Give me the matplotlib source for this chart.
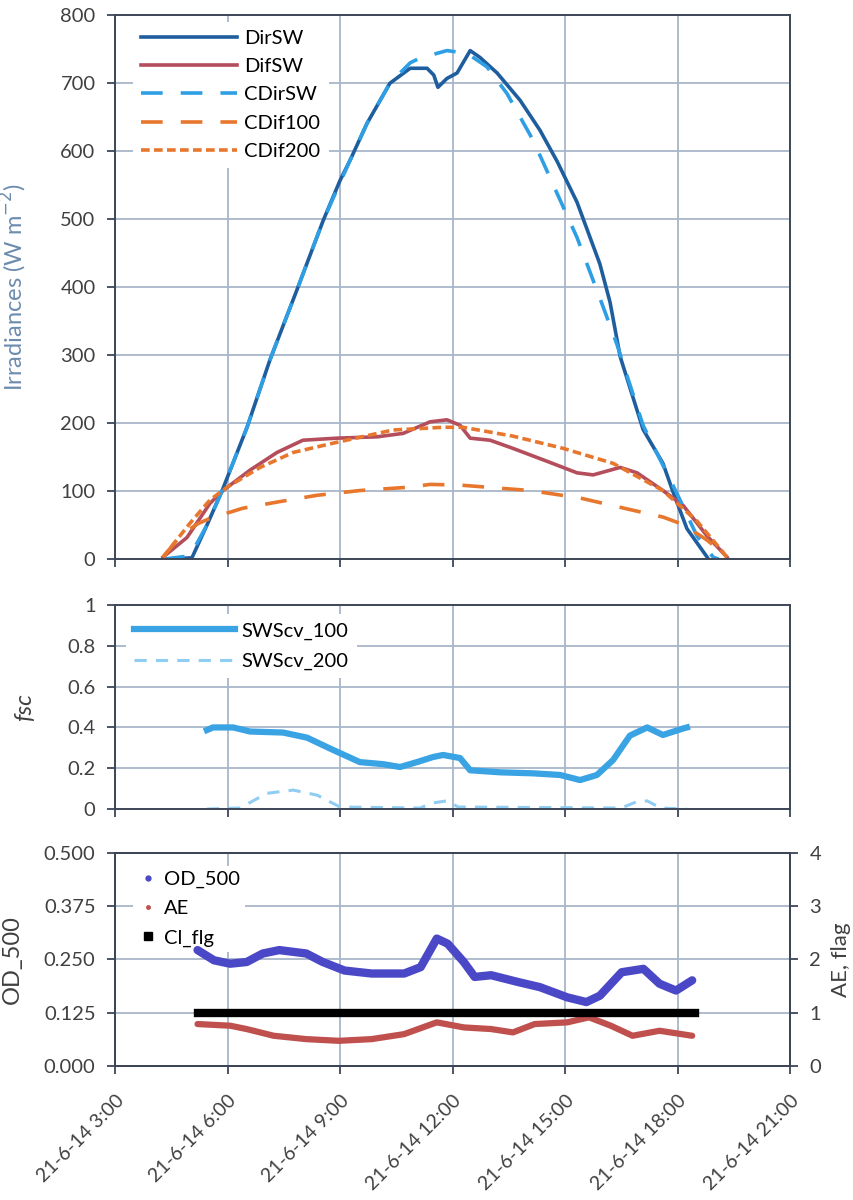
import matplotlib
matplotlib.use('Agg')
import matplotlib.pyplot as plt
import matplotlib.transforms as mtransforms
from matplotlib.lines import Line2D

plt.rcParams['font.family'] = ['Lato', 'DejaVu Sans']

# ---- irradiances (hours of day, W m-2) ----
dir_h = [4.28, 5.05, 5.45, 5.85, 6.52, 7.13, 7.85, 8.55, 9.00, 9.27, 9.72, 10.33, 10.87,
         11.32, 11.50, 11.61, 11.85, 12.12, 12.47, 12.73, 13.19, 13.80, 14.33, 14.79,
         15.32, 15.93, 16.20, 16.47, 17.08, 17.61, 17.88, 18.25, 18.79]
dir_sw = [0, 2, 50, 100, 194, 293, 396, 498, 557, 587, 641, 700, 722,
          722, 712, 694, 707, 715, 748, 738, 715, 675, 631, 585,
          525, 434, 378, 298, 191, 141, 99, 45, 3]

cdir_h = [4.28, 5.00, 5.45, 5.85, 6.52, 7.13, 7.85, 8.55, 9.27, 9.72, 10.33, 10.87, 11.13,
          11.85, 12.39, 12.92, 13.45, 14.15, 14.87, 15.32, 16.01, 16.39, 17.08, 17.99,
          18.52, 18.95, 19.10]
cdir_sw = [0, 5, 50, 100, 194, 293, 396, 498, 587, 641, 700, 730, 737,
           748, 744, 724, 685, 616, 528, 473, 372, 315, 197, 96,
           34, 3, 0]

dif_h = [4.28, 4.92, 5.53, 5.88, 6.60, 7.32, 8.01, 8.92, 9.99, 10.68, 11.40, 11.85, 12.20,
         12.47, 13.00, 13.61, 14.52, 15.32, 15.75, 16.47, 16.92, 17.61, 18.15, 18.79, 19.32]
dif_sw = [3, 32, 82, 101, 131, 157, 175, 178, 180, 185, 202, 205, 197,
          178, 175, 163, 144, 127, 124, 135, 127, 101, 79, 34, 3]

c100_h = [4.28, 4.75, 5.20, 5.53, 6.41, 7.32, 8.39, 9.53, 10.87, 11.40, 12.20, 14.07,
          15.40, 16.73, 17.61, 18.15, 18.79, 19.32]
cdif100 = [3, 35, 52, 60, 75, 84, 94, 101, 106, 110, 109, 101,
           90, 73, 62, 51, 28, 3]

c200_h = [4.28, 5.00, 5.53, 5.99, 6.87, 7.75, 8.92, 10.41, 11.75, 12.28, 13.61, 14.95,
          16.28, 17.61, 18.52, 19.32]
cdif200 = [3, 53, 87, 106, 135, 157, 172, 190, 194, 194, 181, 163,
           141, 101, 56, 3]

# ---- shortwave cloud fraction ----
sc100_h = [5.45, 5.61, 6.15, 6.60, 7.48, 8.12, 8.81, 9.53, 10.15, 10.60, 11.05, 11.48,
           11.75, 12.20, 12.47, 13.27, 14.15, 14.87, 15.40, 15.85, 16.28, 16.73, 17.19,
           17.61, 18.15, 18.25]
swscv_100 = [0.387, 0.40, 0.40, 0.38, 0.375, 0.35, 0.29, 0.23, 0.22, 0.206, 0.23, 0.255,
             0.265, 0.25, 0.19, 0.18, 0.175, 0.167, 0.142, 0.167, 0.24, 0.36, 0.40,
             0.363, 0.395, 0.40]
sc200_h = [5.45, 6.33, 7.05, 7.75, 8.39, 9.00, 11.13, 11.48, 11.85, 12.15, 16.50, 16.90,
           17.19, 17.55, 18.25]
swscv_200 = [0, 0.005, 0.077, 0.093, 0.068, 0.01, 0.005, 0.03, 0.04, 0.01, 0.005, 0.035,
             0.04, 0.005, 0]

# ---- aerosol ----
od_h = [5.20, 5.64, 6.07, 6.51, 6.94, 7.38, 8.10, 8.54, 9.12, 9.84, 10.71, 11.15, 11.58,
        11.87, 12.30, 12.59, 13.03, 13.75, 14.33, 15.06, 15.57, 15.93, 16.51, 17.09,
        17.52, 17.96, 18.39]
od_500 = [0.272, 0.248, 0.240, 0.244, 0.264, 0.272, 0.264, 0.244, 0.224, 0.217, 0.217,
          0.232, 0.299, 0.287, 0.244, 0.209, 0.213, 0.197, 0.185, 0.161, 0.150, 0.165,
          0.220, 0.228, 0.193, 0.177, 0.201]
ae_h = [5.20, 6.07, 6.51, 7.23, 8.10, 8.97, 9.84, 10.71, 11.58, 12.30, 13.03, 13.61,
        14.19, 15.06, 15.64, 16.22, 16.80, 17.52, 18.39]
ae = [0.787, 0.756, 0.693, 0.567, 0.504, 0.472, 0.504, 0.598, 0.819, 0.724, 0.693, 0.630,
      0.787, 0.819, 0.913, 0.756, 0.567, 0.661, 0.567]
cl_h = [5.20, 18.46]
cl_flg = [1, 1]

xticks = [3, 6, 9, 12, 15, 18, 21]
xlabels = ['21-6-14 %d:00' % t for t in xticks]

grid_c = '#a8b6c9'
spine_c = '#3c4656'
tick_c = '#404040'
TS = 14.5   # tick label size
LS = 17     # axis label size
LG = 14.5   # legend size

fig = plt.figure(figsize=(8.54, 12), dpi=100)
ax1 = fig.add_axes([0.1347, 0.534, 0.7904, 0.4533])
ax2 = fig.add_axes([0.1347, 0.3258, 0.7904, 0.170])
ax3 = fig.add_axes([0.1347, 0.1117, 0.7904, 0.1775])


def style(ax):
    ax.set_xlim(3, 21)
    ax.set_xticks(xticks)
    ax.grid(True, color=grid_c, lw=1.3)
    ax.set_axisbelow(True)
    for s in ax.spines.values():
        s.set_color(spine_c)
        s.set_linewidth(1.4)
    ax.tick_params(direction='out', length=6, width=1.3, color=spine_c,
                   labelsize=TS, labelcolor=tick_c, pad=8)


def white_legend(leg):
    leg.get_frame().set_edgecolor('none')
    leg.get_frame().set_facecolor('white')
    leg.get_frame().set_alpha(1)


# top panel
style(ax1)
ax1.plot(dir_h, dir_sw, color='#1f5e9e', lw=2.6, label='DirSW')
ax1.plot(dif_h, dif_sw, color='#b44d5c', lw=2.6, label='DifSW')
ax1.plot(cdir_h, cdir_sw, color='#2e9fe4', lw=2.6, dashes=(6, 5), label='CDirSW')
ax1.plot(c100_h, cdif100, color='#e8772e', lw=2.6, dashes=(6, 5), label='CDif100')
ax1.plot(c200_h, cdif200, color='#e8772e', lw=2.6, dashes=(2.4, 1.2), label='CDif200')
ax1.set_ylim(0, 800)
ax1.set_yticks(range(0, 801, 100))
ax1.set_xticklabels([])
ax1.set_ylabel('Irradiances (W m$^{-2}$)', color='#6d8cae', fontsize=LS)
ax1.yaxis.set_label_coords(-0.128, 0.5)
leg = ax1.legend(loc='upper left', bbox_to_anchor=(0.02, 0.995), fontsize=LG,
                 handlelength=4.8, handletextpad=0.35, labelspacing=0.55,
                 frameon=True, fancybox=False, borderaxespad=0.2)
white_legend(leg)

# middle panel
style(ax2)
ax2.plot(sc100_h, swscv_100, color='#3aa3e3', lw=4.5, label='SWScv_100')
ax2.plot(sc200_h, swscv_200, color='#8fcdf2', lw=2.2, dashes=(4, 3), label='SWScv_200')
ax2.set_ylim(0, 1)
ax2.set_yticks([0, 0.2, 0.4, 0.6, 0.8, 1])
ax2.set_yticklabels(['0', '0.2', '0.4', '0.6', '0.8', '1'])
ax2.set_xticklabels([])
ax2.set_ylabel('fsc', style='italic', fontsize=LS, color=tick_c)
ax2.yaxis.set_label_coords(-0.118, 0.5)
leg2 = ax2.legend(loc='upper left', bbox_to_anchor=(0.01, 0.975), fontsize=LG,
                  handlelength=5.0, handletextpad=0.35, labelspacing=0.65,
                  frameon=True, fancybox=False, borderaxespad=0.2)
white_legend(leg2)

# bottom panel
style(ax3)
ax4 = ax3.twinx()
ax3.plot(od_h, od_500, color='#4a48c6', lw=6, solid_capstyle='round', zorder=3)
ax4.plot(ae_h, ae, color='#c0504d', lw=4.5, solid_capstyle='round')
ax4.plot(cl_h, cl_flg, color='black', lw=6)
ax3.set_ylim(0, 0.5)
ax3.set_yticks([0, 0.125, 0.25, 0.375, 0.5])
ax3.set_yticklabels(['0.000', '0.125', '0.250', '0.375', '0.500'])
ax4.set_ylim(0, 4)
ax4.set_yticks([0, 1, 2, 3, 4])
ax4.tick_params(direction='out', length=6, width=1.3, color=spine_c,
                labelsize=TS, labelcolor=tick_c, pad=8)
for s in ax4.spines.values():
    s.set_color(spine_c)
    s.set_linewidth(1.4)
ax3.set_ylabel('OD_500', fontsize=LS, color=tick_c)
ax3.yaxis.set_label_coords(-0.137, 0.5)
ax4.set_ylabel('AE, flag', fontsize=16, color=tick_c)
ax4.yaxis.set_label_coords(1.060, 0.5)
ax3.tick_params(axis='x', pad=17)
ax3.set_xticklabels(xlabels, rotation=45, ha='right', va='center',
                    rotation_mode='anchor', fontsize=14)
shift = mtransforms.ScaledTranslation(0.06, 0, fig.dpi_scale_trans)
for lab in ax3.get_xticklabels():
    lab.set_transform(lab.get_transform() + shift)

handles = [Line2D([], [], ls='none', marker='o', ms=3.5, color='#4a48c6'),
           Line2D([], [], ls='none', marker='o', ms=2.5, color='#c0504d'),
           Line2D([], [], ls='none', marker='s', ms=6, color='black')]
leg3 = ax3.legend(handles, ['OD_500', 'AE', 'Cl_flg'], loc='upper left',
                  bbox_to_anchor=(0.02, 0.96), fontsize=LG, handlelength=1.0,
                  handletextpad=0.3, labelspacing=0.6, frameon=True, borderpad=0.25,
                  fancybox=False, borderaxespad=0.2)
leg3.set_zorder(1)
white_legend(leg3)

fig.savefig('out.png', dpi=100)
